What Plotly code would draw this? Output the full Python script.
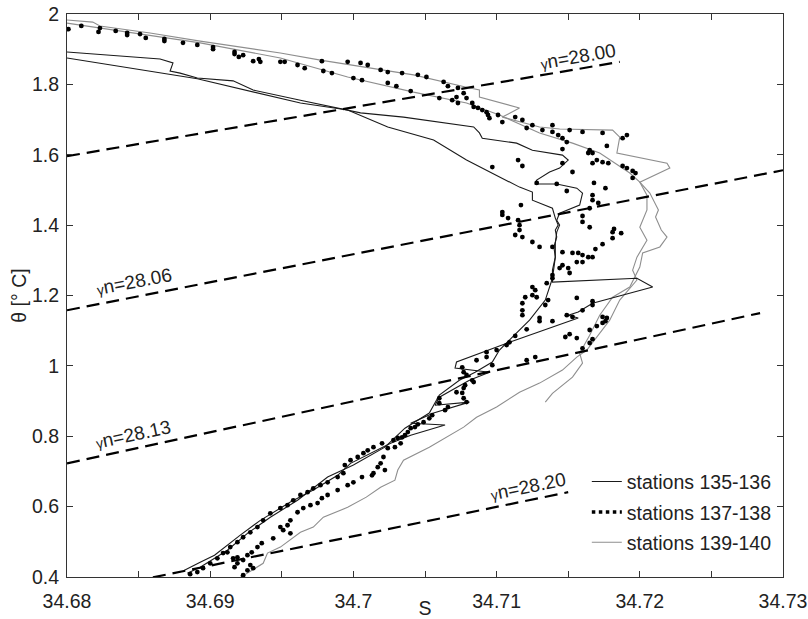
import plotly.graph_objects as go

# ---------------- data (S, theta) ----------------
# stations 135-136 (two black profiles)
s135 = [34.6800, 34.6865, 34.6874, 34.6872, 34.6879, 34.6891, 34.6916, 34.6930, 34.6963, 34.7005,
        34.7035, 34.7084, 34.7088, 34.7090, 34.7114, 34.7125, 34.7146, 34.7150, 34.7144, 34.7137,
        34.7128, 34.7127, 34.7142, 34.7156, 34.7160, 34.7158, 34.7144, 34.7142, 34.7144, 34.7142,
        34.7141, 34.7141, 34.7139, 34.7139, 34.7198, 34.7209, 34.7167, 34.7157, 34.7150, 34.7157,
        34.7109, 34.7102, 34.7072, 34.7071, 34.7095, 34.7081, 34.7060, 34.7057, 34.7081, 34.7056,
        34.7040, 34.7064, 34.7040, 34.7026, 34.6998, 34.6989, 34.6972, 34.6956, 34.6935, 34.6921,
        34.6903, 34.6893, 34.6882]
t135 = [1.892, 1.872, 1.861, 1.838, 1.832, 1.818, 1.810, 1.784, 1.755, 1.719,
        1.707, 1.679, 1.662, 1.647, 1.633, 1.613, 1.599, 1.585, 1.562, 1.551,
        1.528, 1.517, 1.517, 1.505, 1.491, 1.457, 1.434, 1.414, 1.400, 1.380,
        1.349, 1.309, 1.272, 1.238, 1.249, 1.224, 1.178, 1.153, 1.144, 1.136,
        1.067, 1.056, 1.011, 0.994, 0.982, 0.959, 0.911, 0.888, 0.897, 0.866,
        0.837, 0.832, 0.803, 0.780, 0.723, 0.689, 0.647, 0.613, 0.561, 0.519,
        0.462, 0.442, 0.419]
s136 = [34.6800, 34.6891, 34.6963, 34.6996, 34.7024, 34.7056, 34.7079, 34.7097, 34.7116, 34.7125,
        34.7125, 34.7139, 34.7141, 34.7143, 34.7141, 34.7142, 34.7140, 34.7141, 34.7140, 34.7139,
        34.7134, 34.7123, 34.7111, 34.7102, 34.7097, 34.7085, 34.7074, 34.7060, 34.7053, 34.7036,
        34.7022, 34.7012, 34.7000, 34.6982, 34.6961, 34.6942, 34.6926, 34.6912, 34.6893, 34.6884]
t136 = [1.875, 1.816, 1.747, 1.727, 1.679, 1.642, 1.585, 1.548, 1.508, 1.494,
        1.471, 1.448, 1.420, 1.400, 1.386, 1.366, 1.338, 1.309, 1.272, 1.249,
        1.187, 1.130, 1.082, 1.045, 1.011, 0.982, 0.959, 0.917, 0.866, 0.823,
        0.769, 0.746, 0.718, 0.684, 0.618, 0.570, 0.524, 0.476, 0.428, 0.411]

# stations 139-140 (two grey profiles)
s139 = [34.6800, 34.6818, 34.6823, 34.6858, 34.6893, 34.6928, 34.6949, 34.6977, 34.7009, 34.7042,
        34.7079, 34.7088, 34.7088, 34.7116, 34.7104, 34.7130, 34.7144, 34.7181, 34.7186, 34.7184,
        34.7219, 34.7221, 34.7200, 34.7207, 34.7213, 34.7211, 34.7215, 34.7219, 34.7214, 34.7202,
        34.7200, 34.7198, 34.7193, 34.7181, 34.7176, 34.7172, 34.7165, 34.7158, 34.7160, 34.7153,
        34.7139, 34.7134]
t139 = [1.983, 1.977, 1.966, 1.946, 1.923, 1.903, 1.889, 1.869, 1.849, 1.827,
        1.792, 1.784, 1.764, 1.733, 1.707, 1.679, 1.673, 1.670, 1.650, 1.605,
        1.576, 1.562, 1.522, 1.491, 1.443, 1.423, 1.386, 1.366, 1.338, 1.321,
        1.281, 1.264, 1.224, 1.195, 1.167, 1.144, 1.087, 1.036, 1.008, 0.968,
        0.922, 0.897]
s140 = [34.6800, 34.6858, 34.6893, 34.6949, 34.6996, 34.7042, 34.7079, 34.7102, 34.7130, 34.7153,
        34.7172, 34.7193, 34.7200, 34.7205, 34.7205, 34.7200, 34.7205, 34.7198, 34.7195, 34.7198,
        34.7186, 34.7179, 34.7172, 34.7163, 34.7156, 34.7146, 34.7130, 34.7116, 34.7100, 34.7086,
        34.7077, 34.7053, 34.7035, 34.7031, 34.7029, 34.7019, 34.7009, 34.6996, 34.6979, 34.6972,
        34.6963, 34.6949, 34.6940, 34.6937, 34.6926, 34.6921]
t140 = [1.974, 1.940, 1.918, 1.875, 1.821, 1.778, 1.747, 1.713, 1.662, 1.633,
        1.605, 1.548, 1.522, 1.485, 1.443, 1.394, 1.357, 1.309, 1.272, 1.244,
        1.187, 1.130, 1.093, 1.045, 1.025, 0.988, 0.951, 0.925, 0.883, 0.854,
        0.826, 0.769, 0.732, 0.704, 0.675, 0.655, 0.627, 0.598, 0.570, 0.542,
        0.527, 0.485, 0.468, 0.439, 0.411, 0.399]

# stations 137-138 (dots)
s137 = [34.6801, 34.6810, 34.6822, 34.6823, 34.6834, 34.6842, 34.6842, 34.6851, 34.6855, 34.6868,
        34.6868, 34.6881, 34.6891, 34.6902, 34.6902, 34.6917, 34.6917, 34.6920, 34.6923, 34.6930,
        34.6934, 34.6935, 34.6949, 34.6952, 34.6961, 34.6966, 34.6978, 34.6979, 34.6985, 34.6996,
        34.7000, 34.7005, 34.7006, 34.7010, 34.7019, 34.7024, 34.7024, 34.7030, 34.7034, 34.7040,
        34.7045, 34.7051, 34.7060, 34.7063, 34.7066, 34.7069, 34.7072, 34.7073, 34.7073, 34.7077,
        34.7079, 34.7083, 34.7084, 34.7087, 34.7090, 34.7093, 34.7094, 34.7095, 34.7101, 34.7104,
        34.7113, 34.7118, 34.7121, 34.7125, 34.7132, 34.7139, 34.7139, 34.7143, 34.7151, 34.7160,
        34.7174, 34.7191, 34.7188, 34.7146, 34.7149, 34.7177, 34.7146, 34.7165, 34.7164, 34.7167,
        34.7170, 34.7174, 34.7178, 34.7167, 34.7188, 34.7191, 34.7195, 34.7197, 34.7195, 34.7146,
        34.7153, 34.7097, 34.7115, 34.7118, 34.7128, 34.7142, 34.7149, 34.7168, 34.7176, 34.7167,
        34.7167, 34.7171, 34.7165, 34.7160, 34.7160, 34.7165, 34.7182, 34.7181, 34.7187, 34.7181,
        34.7174, 34.7169, 34.7153, 34.7157, 34.7160, 34.7164, 34.7167, 34.7156, 34.7160, 34.7146,
        34.7150, 34.7151, 34.7144, 34.7125, 34.7130, 34.7139, 34.7146, 34.7139, 34.7117, 34.7104,
        34.7104, 34.7108, 34.7115, 34.7116, 34.7116, 34.7113, 34.7118, 34.7135, 34.7125, 34.7127,
        34.7125, 34.7128, 34.7120, 34.7118, 34.7136, 34.7134, 34.7156, 34.7167, 34.7167, 34.7139,
        34.7118, 34.7118, 34.7130, 34.7130, 34.7139, 34.7160, 34.7149, 34.7153, 34.7174, 34.7177,
        34.7176, 34.7174, 34.7170, 34.7165, 34.7121, 34.7148, 34.7151, 34.7156, 34.7167, 34.7165,
        34.7160, 34.7127, 34.7121, 34.7113, 34.7109, 34.7107, 34.7093, 34.7100, 34.7086, 34.7093,
        34.7097, 34.7077, 34.7076, 34.7079, 34.7083, 34.7084, 34.7078, 34.7077, 34.7076, 34.7072,
        34.7060, 34.7060, 34.7064, 34.7066, 34.7077, 34.7079, 34.7055, 34.7053, 34.7049, 34.7045,
        34.7043, 34.7040, 34.7038, 34.7036, 34.7034, 34.7031, 34.7028, 34.7033, 34.7029, 34.7024,
        34.7020, 34.7014, 34.7010, 34.7007, 34.7003, 34.6998, 34.6994, 34.6993, 34.6989, 34.7021,
        34.7019, 34.7017, 34.7022, 34.7014, 34.6982, 34.6977, 34.6972, 34.6968, 34.6963, 34.6958,
        34.6954, 34.6949, 34.6942, 34.6937, 34.6933, 34.6928, 34.6923, 34.6919, 34.6914, 34.6909,
        34.6905, 34.6900, 34.6895, 34.6891, 34.6886, 34.7013, 34.7006, 34.7000, 34.6996, 34.6989,
        34.6982, 34.6978, 34.6975, 34.6970, 34.6965, 34.6961, 34.6956, 34.6954, 34.6951, 34.6949,
        34.6956, 34.6944, 34.6936, 34.6933, 34.6929, 34.6926, 34.6923, 34.6919, 34.6917, 34.6928,
        34.6926, 34.6923, 34.6919, 34.6916, 34.6912, 34.6930]
t137 = [1.957, 1.966, 1.949, 1.960, 1.952, 1.946, 1.940, 1.943, 1.932, 1.929,
        1.923, 1.918, 1.912, 1.906, 1.900, 1.892, 1.886, 1.878, 1.883, 1.866,
        1.872, 1.864, 1.864, 1.864, 1.855, 1.846, 1.866, 1.838, 1.832, 1.864,
        1.818, 1.861, 1.812, 1.855, 1.841, 1.835, 1.804, 1.795, 1.832, 1.781,
        1.827, 1.821, 1.761, 1.807, 1.795, 1.755, 1.764, 1.790, 1.747, 1.775,
        1.761, 1.747, 1.736, 1.733, 1.727, 1.721, 1.713, 1.704, 1.713, 1.693,
        1.707, 1.699, 1.676, 1.684, 1.670, 1.684, 1.665, 1.656, 1.670, 1.665,
        1.662, 1.656, 1.647, 1.647, 1.636, 1.625, 1.616, 1.613, 1.605, 1.605,
        1.585, 1.579, 1.576, 1.576, 1.568, 1.562, 1.554, 1.548, 1.534, 1.576,
        1.551, 1.565, 1.585, 1.568, 1.520, 1.517, 1.497, 1.520, 1.505, 1.485,
        1.471, 1.463, 1.448, 1.426, 1.409, 1.394, 1.389, 1.380, 1.377, 1.363,
        1.346, 1.332, 1.321, 1.321, 1.315, 1.309, 1.309, 1.295, 1.295, 1.286,
        1.278, 1.264, 1.278, 1.352, 1.338, 1.338, 1.323, 1.258, 1.457, 1.437,
        1.429, 1.420, 1.414, 1.400, 1.386, 1.372, 1.366, 1.235, 1.224, 1.215,
        1.201, 1.195, 1.195, 1.178, 1.187, 1.173, 1.193, 1.184, 1.173, 1.249,
        1.158, 1.144, 1.136, 1.127, 1.127, 1.158, 1.144, 1.139, 1.139, 1.136,
        1.127, 1.122, 1.113, 1.102, 1.104, 1.082, 1.090, 1.079, 1.076, 1.065,
        1.050, 1.025, 1.016, 1.085, 1.067, 1.059, 1.039, 1.045, 1.016, 1.025,
        1.002, 0.982, 0.996, 0.974, 0.959, 0.954, 0.945, 0.937, 0.923, 0.925,
        0.908, 0.894, 0.874, 0.883, 0.908, 0.897, 0.860, 0.851, 0.840, 0.834,
        0.826, 0.823, 0.812, 0.803, 0.797, 0.795, 0.789, 0.780, 0.769, 0.766,
        0.780, 0.769, 0.760, 0.752, 0.741, 0.732, 0.718, 0.695, 0.684, 0.741,
        0.723, 0.712, 0.704, 0.695, 0.669, 0.661, 0.652, 0.641, 0.633, 0.618,
        0.604, 0.596, 0.581, 0.561, 0.542, 0.527, 0.513, 0.499, 0.485, 0.468,
        0.453, 0.439, 0.425, 0.414, 0.408, 0.689, 0.684, 0.669, 0.661, 0.647,
        0.633, 0.624, 0.610, 0.604, 0.596, 0.584, 0.561, 0.547, 0.533, 0.542,
        0.524, 0.510, 0.496, 0.485, 0.470, 0.462, 0.448, 0.439, 0.428, 0.434,
        0.419, 0.405, 0.456, 0.453, 0.470, 0.425]

# neutral density isolines (end points)
iso_labels = ["28.00", "28.06", "28.13", "28.20"]
iso_s = [[34.6800, 34.7186], [34.6800, 34.7300], [34.6800, 34.7284], [34.6860, 34.7150]]
iso_t = [[1.596, 1.864], [1.158, 1.556], [0.723, 1.150], [0.399, 0.641]]
iso_label_s = [34.7157, 34.6847, 34.6846, 34.7122]
iso_label_t = [1.878, 1.240, 0.805, 0.658]
iso_label_angle = [-10, -11, -12, -11.5]

x_tickvals = [34.68, 34.685, 34.69, 34.695, 34.70, 34.705, 34.71, 34.715, 34.72, 34.725, 34.73]
x_ticktext = ["34.68", "", "34.69", "", "34.7", "", "34.71", "", "34.72", "", "34.73"]
y_tickvals = [0.4, 0.6, 0.8, 1.0, 1.2, 1.4, 1.6, 1.8, 2.0]
y_ticktext = ["0.4", "0.6", "0.8", "1", "1.2", "1.4", "1.6", "1.8", "2"]

FONT = "Liberation Sans, Arial, Helvetica, sans-serif"
BLACK = "#1a1a1a"
GREY = "#8e8e8e"

fig = go.Figure()

# grey profiles
fig.add_trace(go.Scatter(x=s139, y=t139, mode="lines", line=dict(color=GREY, width=1.1),
                         name="stations 139-140", legendgroup="c", legendrank=3, showlegend=True))
fig.add_trace(go.Scatter(x=s140, y=t140, mode="lines", line=dict(color=GREY, width=1.1),
                         legendgroup="c", showlegend=False))
# black profiles
fig.add_trace(go.Scatter(x=s135, y=t135, mode="lines", line=dict(color=BLACK, width=1.1),
                         name="stations 135-136", legendgroup="a", legendrank=1, showlegend=True))
fig.add_trace(go.Scatter(x=s136, y=t136, mode="lines", line=dict(color=BLACK, width=1.1),
                         legendgroup="a", showlegend=False))
# dots
fig.add_trace(go.Scatter(x=s137, y=t137, mode="markers", marker=dict(color="black", size=4.8),
                         legendgroup="b", showlegend=False))
fig.add_trace(go.Scatter(x=[None], y=[None], mode="lines",
                         line=dict(color="black", width=3.5, dash="3.5px,3.5px"),
                         name="stations 137-138", legendgroup="b", legendrank=2, showlegend=True))

# isopycnals
for xs, ys in zip(iso_s, iso_t):
    fig.add_trace(go.Scatter(x=xs, y=ys, mode="lines", showlegend=False,
                             line=dict(color="black", width=2.2, dash="13px,7px")))

for lab, xs, ys, ang in zip(iso_labels, iso_label_s, iso_label_t, iso_label_angle):
    fig.add_annotation(x=xs, y=ys, xref="x", yref="y", showarrow=False, textangle=ang,
                       text="<span style='font-size:14px'>γ</span>n=" + lab,
                       font=dict(family=FONT, size=19, color="#222"))

axis_common = dict(showline=True, linecolor="#333", linewidth=1, mirror="ticks",
                   ticks="inside", ticklen=6, tickcolor="#333", showgrid=False, zeroline=False,
                   automargin=False, ticklabeloverflow="allow",
                   tickfont=dict(family=FONT, size=19.5, color="#222"))

fig.update_xaxes(range=[34.68, 34.73], tickvals=x_tickvals, ticktext=x_ticktext,
                 ticklabelstandoff=7,
                 title=dict(text="S", font=dict(family=FONT, size=19.5, color="#222"), standoff=3),
                 **axis_common)
fig.update_yaxes(range=[0.4, 2.0], tickvals=y_tickvals, ticktext=y_ticktext,
                 ticklabelstandoff=3,
                 title=dict(text="θ [° C]", font=dict(family=FONT, size=19.5, color="#222"), standoff=0),
                 **axis_common)

fig.update_layout(
    width=808, height=619,
    margin=dict(l=67, r=25, t=14, b=42, pad=0, autoexpand=False),
    paper_bgcolor="white", plot_bgcolor="white",
    font=dict(family=FONT, color="#222"),
    legend=dict(x=0.726, y=0.2036, xanchor="left", yanchor="top", bgcolor="rgba(0,0,0,0)",
                font=dict(family=FONT, size=19.5, color="#222"), tracegroupgap=2,
                itemwidth=30),
)

# remove the browser's default 8px body margin so the figure sits at the page origin
fig.write_html("out.html",
               config={"displayModeBar": False},
               post_script="document.body.style.margin='0';document.body.style.overflow='hidden';")
